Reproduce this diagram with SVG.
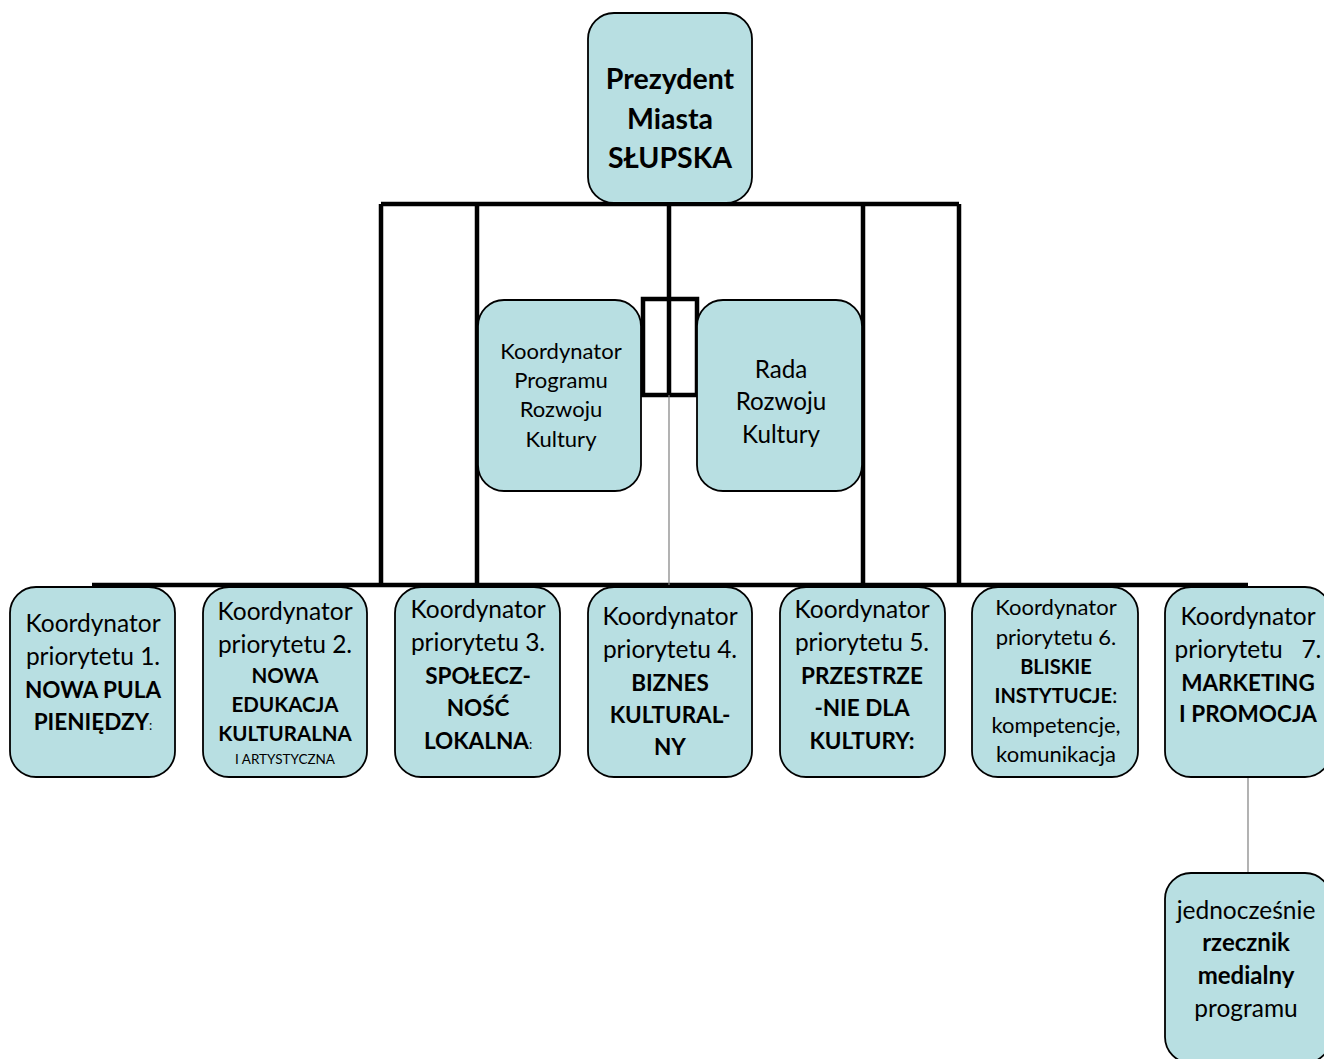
<svg xmlns="http://www.w3.org/2000/svg" width="1324" height="1059" viewBox="0 0 1324 1059">
<style>
.box{fill:#b8dfe2;stroke:#000;stroke-width:1.8}
.t{font-family:Lato,"Liberation Sans",sans-serif;fill:#000;text-anchor:middle}
.b{font-weight:bold}
.n{font-size:24.5px}
.bb{font-weight:bold;font-size:22.5px}
.thick{stroke:#000;stroke-width:4.5;fill:none}
.thin{stroke:#808080;stroke-width:1.2;fill:none}
</style>
<rect width="1324" height="1059" fill="#fff"/>
<g id="connectors">
  <path class="thick" d="M381 204 H959 M381 204 V585 M477 204 V585 M863 204 V585 M959 204 V585 M669 204 V395"/>
  <path class="thick" d="M643 299 H697 V395 H643 Z"/>
  <path class="thick" d="M92 585 H1248"/>
  <path class="thin" d="M669 395 V585 M1248 778 V873"/>
</g>
<g id="prezydent">
  <rect class="box" x="588" y="13" width="164" height="190" rx="26"/>
  <text class="t b" font-size="28.5"><tspan x="670" y="89">Prezydent</tspan><tspan x="670" y="129">Miasta</tspan><tspan x="670" y="168">SŁUPSKA</tspan></text>
</g>
<g id="koordynator-programu">
  <rect class="box" x="478" y="300" width="163" height="191" rx="26"/>
  <text class="t" font-size="22"><tspan x="561" y="359">Koordynator</tspan><tspan x="561" y="388">Programu</tspan><tspan x="561" y="417">Rozwoju</tspan><tspan x="561" y="447">Kultury</tspan></text>
</g>
<g id="rada">
  <rect class="box" x="697" y="300" width="165" height="191" rx="26"/>
  <text class="t" font-size="24.2"><tspan x="781" y="378">Rada</tspan><tspan x="781" y="410">Rozwoju</tspan><tspan x="781" y="443">Kultury</tspan></text>
</g>
<g id="p1">
  <rect class="box" x="10" y="587" width="165" height="190" rx="26"/>
  <text class="t n"><tspan x="93" y="632">Koordynator</tspan><tspan x="93" y="665">priorytetu 1.</tspan><tspan x="93" y="698" class="bb">NOWA PULA</tspan><tspan x="93" y="730"><tspan class="bb">PIENIĘDZY</tspan><tspan font-size="13">:</tspan></tspan></text>
</g>
<g id="p2">
  <rect class="box" x="203" y="587" width="164" height="190" rx="26"/>
  <text class="t n"><tspan x="285" y="620">Koordynator</tspan><tspan x="285" y="653">priorytetu 2.</tspan></text>
  <text class="t b" font-size="20.5"><tspan x="285" y="683">NOWA</tspan><tspan x="285" y="712">EDUKACJA</tspan><tspan x="285" y="741">KULTURALNA</tspan></text>
  <text class="t" font-size="13.5" x="285" y="764">I ARTYSTYCZNA</text>
</g>
<g id="p3">
  <rect class="box" x="395" y="587" width="165" height="190" rx="26"/>
  <text class="t n"><tspan x="478" y="618">Koordynator</tspan><tspan x="478" y="651">priorytetu 3.</tspan><tspan x="478" y="684" class="bb">SPOŁECZ-</tspan><tspan x="478" y="716" class="bb">NOŚĆ</tspan><tspan x="478" y="749"><tspan class="bb">LOKALNA</tspan><tspan font-size="13">:</tspan></tspan></text>
</g>
<g id="p4">
  <rect class="box" x="588" y="587" width="164" height="190" rx="26"/>
  <text class="t n"><tspan x="670" y="625">Koordynator</tspan><tspan x="670" y="658">priorytetu 4.</tspan><tspan x="670" y="691" class="bb">BIZNES</tspan><tspan x="670" y="723" class="bb">KULTURAL-</tspan><tspan x="670" y="755" class="bb">NY</tspan></text>
</g>
<g id="p5">
  <rect class="box" x="780" y="587" width="165" height="190" rx="26"/>
  <text class="t n"><tspan x="862" y="618">Koordynator</tspan><tspan x="862" y="651">priorytetu 5.</tspan><tspan x="862" y="684" class="bb">PRZESTRZE</tspan><tspan x="862" y="716" class="bb">-NIE DLA</tspan><tspan x="862" y="749" class="bb">KULTURY:</tspan></text>
</g>
<g id="p6">
  <rect class="box" x="972" y="587" width="166" height="190" rx="26"/>
  <text class="t" font-size="22"><tspan x="1056" y="615">Koordynator</tspan><tspan x="1056" y="645">priorytetu 6.</tspan><tspan x="1056" y="674" class="b" font-size="20">BLISKIE</tspan><tspan x="1056" y="703"><tspan class="b" font-size="20">INSTYTUCJE</tspan>:</tspan><tspan x="1056" y="733">kompetencje,</tspan><tspan x="1056" y="762">komunikacja</tspan></text>
</g>
<g id="p7">
  <rect class="box" x="1165" y="587" width="166" height="190" rx="26"/>
  <text class="t n" xml:space="preserve"><tspan x="1248" y="625">Koordynator</tspan><tspan x="1248" y="658">priorytetu   7.</tspan><tspan x="1248" y="691" class="bb">MARKETING</tspan><tspan x="1248" y="722" class="bb">I PROMOCJA</tspan></text>
</g>
<g id="rzecznik">
  <rect class="box" x="1165" y="873" width="166" height="190" rx="26"/>
  <text class="t n"><tspan x="1246" y="919">jednocześnie</tspan><tspan x="1246" y="951" class="b" font-size="24">rzecznik</tspan><tspan x="1246" y="984" class="b" font-size="24">medialny</tspan><tspan x="1246" y="1017">programu</tspan></text>
</g>
</svg>
